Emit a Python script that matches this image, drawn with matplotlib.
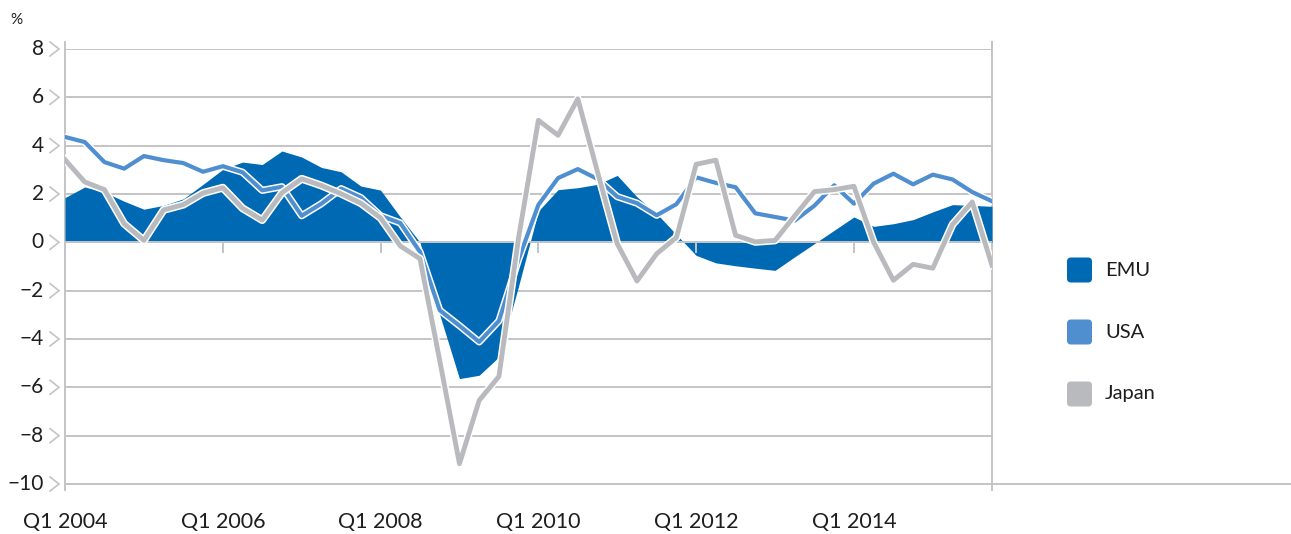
import matplotlib
matplotlib.use("Agg")
import matplotlib.pyplot as plt
import matplotlib.patheffects as pe
from matplotlib.patches import FancyBboxPatch

plt.rcParams['font.family'] = ['Lato', 'DejaVu Sans']
plt.rcParams['font.weight'] = 'normal'

# ---------------- data ----------------
quarters = [f"Q{q} {y}" for y in range(2004, 2016) for q in range(1, 5)]

emu = [1.85, 2.29, 2.08, 1.70, 1.37, 1.53, 1.80, 2.40, 3.02, 3.32, 3.22, 3.78,
       3.53, 3.10, 2.92, 2.33, 2.16, 1.05, 0.00, -3.00, -5.64, -5.50, -4.74, -1.80,
       1.30, 2.18, 2.26, 2.40, 2.77, 1.88, 1.19, 0.32, -0.54, -0.85, -0.97, -1.07,
       -1.16, -0.60, -0.05, 0.50, 1.05, 0.66, 0.77, 0.94, 1.26, 1.56, 1.53, 1.49]

usa = [4.36, 4.15, 3.32, 3.05, 3.57, 3.40, 3.28, 2.92, 3.15, 2.90, 2.15, 2.30,
       1.10, 1.60, 2.22, 1.85, 1.10, 0.80, -0.40, -2.81, -3.45, -4.12, -3.25, -0.70,
       1.55, 2.66, 3.03, 2.62, 1.89, 1.62, 1.12, 1.58, 2.69, 2.46, 2.28, 1.20,
       1.05, 0.90, 1.52, 2.36, 1.60, 2.43, 2.84, 2.40, 2.80, 2.60, 2.08, 1.70]

japan = [3.42, 2.50, 2.18, 0.77, 0.08, 1.34, 1.56, 2.04, 2.26, 1.41, 0.92, 2.05,
         2.63, 2.35, 2.01, 1.62, 1.01, -0.15, -0.68, -4.90, -9.16, -6.54, -5.55, 0.20,
         5.05, 4.43, 5.94, 2.91, -0.06, -1.60, -0.47, 0.20, 3.23, 3.40, 0.29, 0.02,
         0.08, 1.10, 2.10, 2.18, 2.32, 0.00, -1.57, -0.91, -1.07, 0.74, 1.67, -0.95]

series_names = ["EMU", "USA", "Japan"]
y_ticks = [8, 6, 4, 2, 0, -2, -4, -6, -8, -10]
x_tick_labels = ["Q1 2004", "Q1 2006", "Q1 2008", "Q1 2010", "Q1 2012", "Q1 2014"]

# ---------------- style ----------------
C_EMU = '#0069b4'
C_USA = '#4f8fcf'
C_JAP = '#b9babe'
C_GRID = '#c4c4c7'
C_TEXT = '#1e1e1e'

W, H = 1291, 534
fig = plt.figure(figsize=(W / 100, H / 100), dpi=100)
L, R, T, B = 65, 992, 49, 484
ax = fig.add_axes([L / W, (H - B) / H, (R - L) / W, (B - T) / H])

x = list(range(len(quarters)))
ax.set_xlim(0, len(quarters) - 1)
ax.set_ylim(-10, 8)
for s in ax.spines.values():
    s.set_visible(False)
ax.set_xticks([])
ax.set_yticks([])
ax.patch.set_alpha(0)

pw = R - L
ph = B - T
ytr = ax.get_yaxis_transform()
xtr = ax.get_xaxis_transform()

# horizontal gridlines
for v in y_ticks:
    if v == -10:
        ax.axhline(v, xmin=0, xmax=(1290 - L) / pw, color=C_GRID, lw=1.4,
                   zorder=1, clip_on=False)
    elif v == 0:
        ax.axhline(v, color=C_GRID, lw=1.4, zorder=2.5)
    else:
        ax.axhline(v, color=C_GRID, lw=1.4, zorder=1)
    # chevron marks and labels
    ax.plot([-15 / pw, -6 / pw, -15 / pw], [v + 0.29, v, v - 0.29], transform=ytr,
            color=C_GRID, lw=1.2, clip_on=False, solid_joinstyle='miter')
    lab = str(v) if v >= 0 else "\u2212" + str(-v)
    ax.text(-21 / pw, v, lab, transform=ytr, ha='right', va='center',
            fontsize=15, color=C_TEXT)

# vertical boundary lines
ax.axvline(0, ymin=-6 / ph, ymax=1 + 7 / ph, color=C_GRID, lw=1.4, clip_on=False, zorder=1)
ax.axvline(len(quarters) - 1, ymin=-6 / ph, ymax=1 + 7 / ph, color=C_GRID, lw=1.4,
           clip_on=False, zorder=1)

# x ticks on the zero line + labels
tick_pos = [quarters.index(lbl) for lbl in x_tick_labels]
for p, lbl in zip(tick_pos, x_tick_labels):
    if p != 0:
        ax.plot([p, p], [0, -0.42], color=C_GRID, lw=1.4, zorder=2.5)
    ax.text(p, -(522 - B) / ph, lbl, transform=xtr, ha='center', va='center',
            fontsize=15.5, color=C_TEXT)

# EMU area
ax.fill_between(x, 0, emu, color=C_EMU, lw=0, zorder=2)

# USA line
ax.plot(x, usa, color=C_USA, lw=3.0, zorder=3, solid_joinstyle='round',
        path_effects=[pe.Stroke(linewidth=5.2, foreground='white'), pe.Normal()])
# Japan line
ax.plot(x, japan, color=C_JAP, lw=3.5, zorder=4, solid_joinstyle='round',
        path_effects=[pe.Stroke(linewidth=5.7, foreground='white'), pe.Normal()])

# % label
fig.text(10 / W, 1 - 20 / H, '%', fontsize=11, color=C_TEXT, ha='left', va='center')

# legend (pixel overlay)
lax = fig.add_axes([0, 0, 1, 1])
lax.set_xlim(0, W)
lax.set_ylim(H, 0)
lax.axis('off')
lax.patch.set_alpha(0)
for name, col, yc in zip(series_names, [C_EMU, C_USA, C_JAP], [270, 332, 394]):
    lax.add_patch(FancyBboxPatch((1067, yc - 12.5), 25, 25,
                                 boxstyle='round,pad=0,rounding_size=4',
                                 fc=col, ec='none'))
    lax.text(1105, yc, name, ha='left', va='center', fontsize=14.5, color=C_TEXT)

fig.savefig('out.png', dpi=100)
